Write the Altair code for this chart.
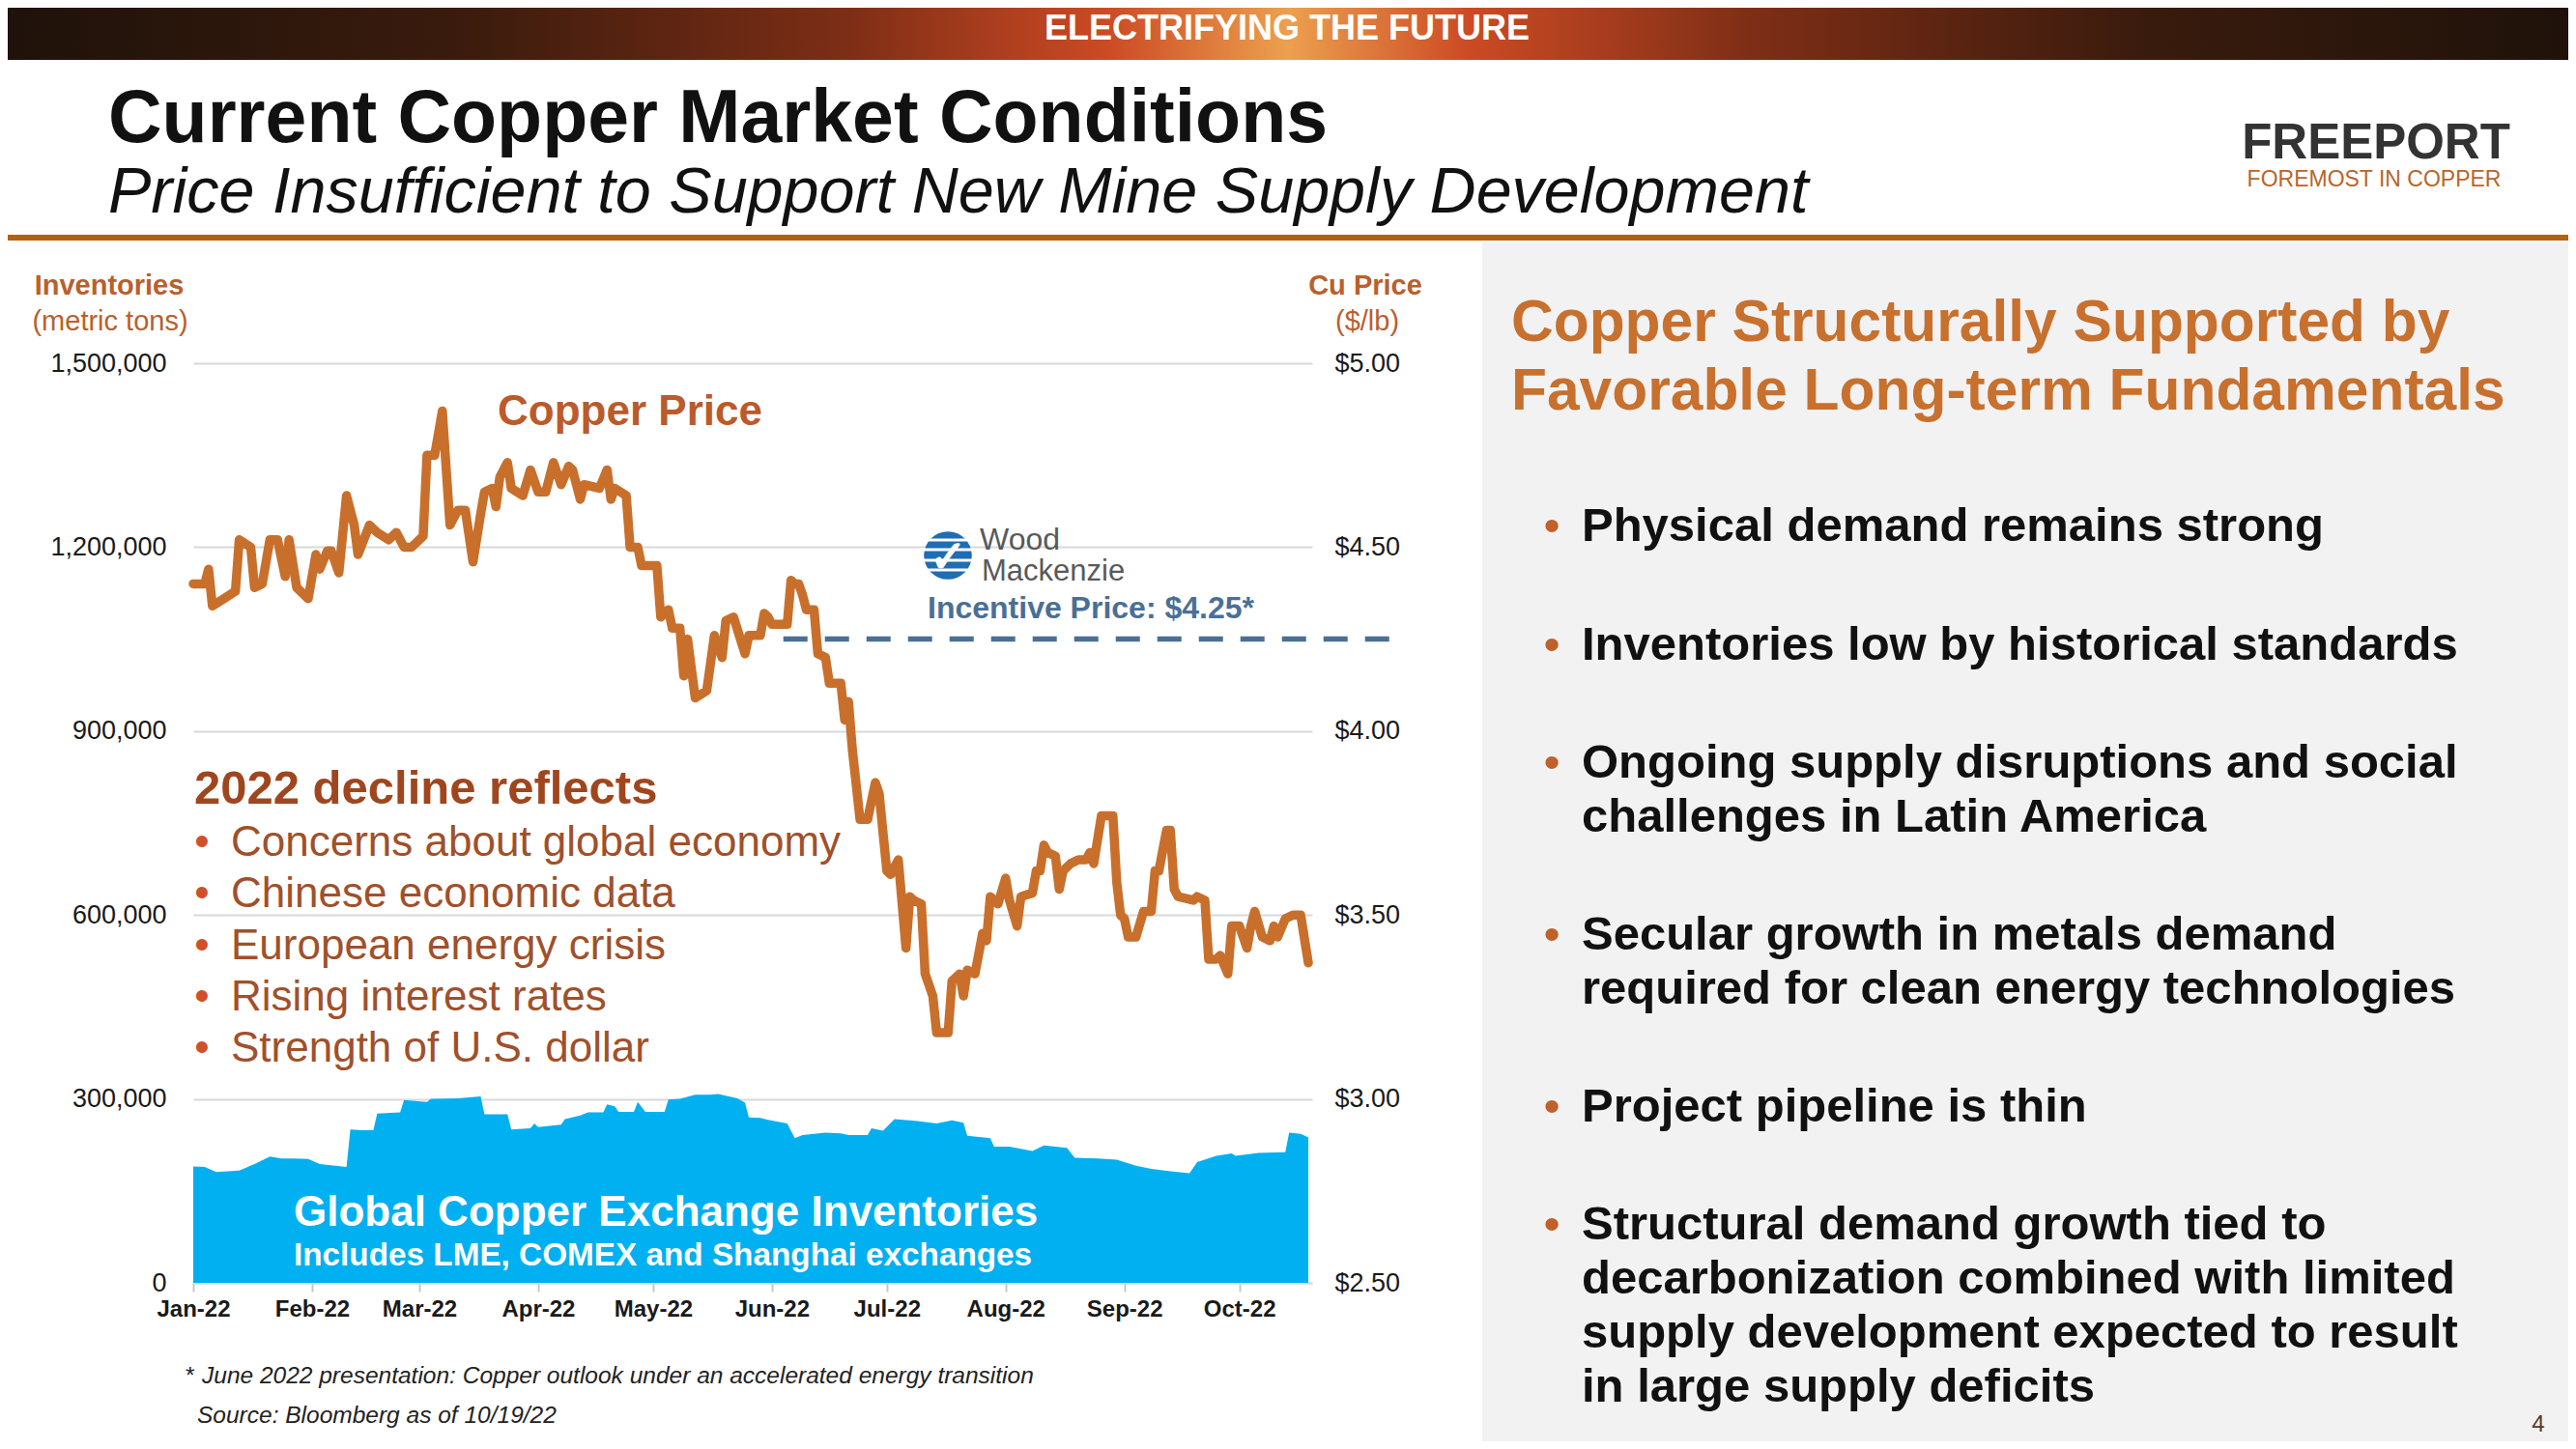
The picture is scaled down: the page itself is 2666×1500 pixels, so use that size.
import altair as alt
import pandas as pd

FONT = "Liberation Sans"

# ---------------- data ----------------
# days after 1 Jan 2022 and LME copper price in $/lb
price_days = [0, 3, 4, 5, 8, 11, 12, 15, 16, 18,
              20, 22, 24, 25, 27, 30, 32, 33, 35, 36,
              38, 40, 42, 43, 46, 48, 51, 53, 55, 57,
              60, 61, 63, 65, 67, 69, 71, 73, 75, 76,
              78, 79, 80, 82, 83, 86, 88, 90, 92, 94,
              96, 98, 99, 101, 102, 106, 108, 109, 110, 113,
              114, 116, 117, 121, 122, 124, 125, 127, 128, 129,
              131, 134, 136, 138, 139, 141, 144, 145, 148, 149,
              150, 151, 155, 156, 157, 158, 159, 160, 162, 163,
              165, 166, 169, 170, 171, 172, 174, 176, 178, 179,
              181, 182, 184, 186, 187, 188, 190, 191, 193, 194,
              197, 198, 199, 200, 201, 202, 204, 206, 207, 208,
              210, 212, 213, 215, 216, 219, 220, 221, 222, 223,
              225, 226, 227, 229, 231, 233, 234, 235, 237, 240,
              241, 242, 243, 244, 246, 248, 250, 251, 252, 254,
              255, 256, 257, 261, 262, 264, 265, 267, 268, 270,
              271, 273, 275, 276, 277, 279, 281, 282, 283, 285,
              287, 289, 291]
price_usd_lb = [4.40, 4.40, 4.44, 4.34, 4.36, 4.38, 4.52, 4.50, 4.39, 4.40,
                4.52, 4.52, 4.42, 4.52, 4.39, 4.36, 4.48, 4.44, 4.49, 4.49,
                4.43, 4.64, 4.56, 4.48, 4.56, 4.54, 4.52, 4.54, 4.50, 4.50,
                4.53, 4.75, 4.75, 4.87, 4.56, 4.60, 4.60, 4.46, 4.59, 4.65,
                4.66, 4.61, 4.69, 4.73, 4.66, 4.64, 4.71, 4.65, 4.65, 4.73,
                4.67, 4.72, 4.71, 4.63, 4.67, 4.66, 4.71, 4.63, 4.66, 4.64,
                4.50, 4.50, 4.45, 4.45, 4.31, 4.33, 4.28, 4.28, 4.15, 4.25,
                4.09, 4.11, 4.26, 4.20, 4.30, 4.31, 4.21, 4.26, 4.26, 4.32,
                4.31, 4.29, 4.29, 4.41, 4.40, 4.40, 4.37, 4.33, 4.33, 4.21,
                4.20, 4.13, 4.13, 4.03, 4.08, 3.95, 3.76, 3.76, 3.86, 3.83,
                3.62, 3.61, 3.65, 3.41, 3.55, 3.54, 3.53, 3.34, 3.28, 3.18,
                3.18, 3.32, 3.33, 3.34, 3.28, 3.35, 3.34, 3.45, 3.43, 3.55,
                3.53, 3.60, 3.54, 3.47, 3.55, 3.56, 3.62, 3.62, 3.69, 3.67,
                3.66, 3.57, 3.62, 3.64, 3.65, 3.65, 3.67, 3.64, 3.77, 3.77,
                3.59, 3.50, 3.49, 3.44, 3.44, 3.51, 3.51, 3.62, 3.62, 3.73,
                3.73, 3.57, 3.55, 3.54, 3.55, 3.54, 3.38, 3.38, 3.39, 3.34,
                3.47, 3.47, 3.41, 3.47, 3.51, 3.44, 3.43, 3.47, 3.44, 3.49,
                3.50, 3.50, 3.37]

# days after 1 Jan 2022 and global exchange inventories (metric tons)
inv_days = [0, 3, 6, 12, 16, 20, 23, 26, 30, 33,
            40, 41, 44, 47, 48, 54, 55, 61, 62, 69,
            75, 76, 82, 83, 88, 89, 90, 96, 97, 101,
            103, 107, 108, 110, 111, 115, 116, 118, 123, 124,
            127, 131, 135, 137, 142, 144, 145, 148, 150, 155,
            157, 159, 165, 169, 171, 176, 177, 180, 183, 189,
            194, 198, 201, 202, 208, 209, 213, 219, 222, 228,
            230, 236, 241, 246, 250, 255, 260, 262, 267, 271,
            272, 278, 285, 286, 289, 291]
inv_tons = [190000, 189000, 181000, 183000, 194000, 206000, 203000, 203000, 202000, 194000,
            189000, 250000, 249000, 249000, 276000, 278000, 298000, 295000, 300000, 301000,
            304000, 275000, 275000, 250000, 252000, 260000, 254000, 258000, 267000, 273000,
            278000, 278000, 291000, 288000, 279000, 279000, 295000, 279000, 279000, 299000,
            300000, 307000, 307000, 308000, 301000, 294000, 270000, 269000, 266000, 260000,
            236000, 241000, 245000, 244000, 241000, 241000, 252000, 248000, 267000, 264000,
            260000, 265000, 261000, 240000, 236000, 222000, 222000, 215000, 224000, 220000,
            204000, 203000, 201000, 191000, 186000, 182000, 179000, 197000, 207000, 211000,
            207000, 212000, 213000, 245000, 243000, 237000]

inventory_ticks = [0, 300000, 600000, 900000, 1200000, 1500000]
price_ticks = [2.5, 3.0, 3.5, 4.0, 4.5, 5.0]
incentive_price = [4.25]
incentive_start_day = [154]

decline_reasons = ["Concerns about global economy", "Chinese economic data",
                   "European energy crisis", "Rising interest rates",
                   "Strength of U.S. dollar"]
fundamentals = [
    ["Physical demand remains strong"],
    ["Inventories low by historical standards"],
    ["Ongoing supply disruptions and social", "challenges in Latin America"],
    ["Secular growth in metals demand", "required for clean energy technologies"],
    ["Project pipeline is thin"],
    ["Structural demand growth tied to", "decarbonization combined with limited",
     "supply development expected to result", "in large supply deficits"],
]

# ---------------- tables ----------------
base = pd.Timestamp("2022-01-01")
price_df = pd.DataFrame({"date": base + pd.to_timedelta(price_days, unit="D"),
                         "price": price_usd_lb})
inv_df = pd.DataFrame({"date": base + pd.to_timedelta(inv_days, unit="D"),
                       "tons": inv_tons})
inc_df = pd.DataFrame({"date": base + pd.to_timedelta(incentive_start_day, unit="D"),
                       "price": incentive_price})
ONE = pd.DataFrame({"k": [0]})

# plot area origin on the page (reference pixels)
OX, OY = 200, 376
W, H = 1158, 952

X = alt.X(
    "date:T", title=None,
    scale=alt.Scale(domain=[alt.DateTime(year=2022, month=1, date=1),
                            alt.DateTime(year=2022, month=10, date=20)]),
    axis=alt.Axis(values=[alt.DateTime(year=2022, month=m, date=1) for m in range(1, 11)],
                  format="%b-%y", labelFont=FONT, labelFontSize=24, labelFontWeight="bold",
                  labelColor="#1a1a1a", tickSize=9, tickColor="#c8c8c8", tickWidth=2,
                  domainColor="#d9d9d9", domainWidth=2, labelPadding=6, grid=False,
                  labelFlush=False, labelOverlap=False, labelBound=False),
)


def text(s, x, y, size, color="#111111", weight="normal", style="normal", align="left",
         font=FONT):
    return alt.Chart(ONE).mark_text(
        text=s, font=font, fontSize=size, fontWeight=weight, fontStyle=style,
        color=color, align=align, baseline="alphabetic"
    ).encode(x=alt.value(x - OX), y=alt.value(y - OY))


def box(x1, y1, x2, y2, color):
    return alt.Chart(ONE).mark_rect(color=color).encode(
        x=alt.value(x1 - OX), x2=alt.value(x2 - OX),
        y=alt.value(y1 - OY), y2=alt.value(y2 - OY))


banner_grad = alt.LinearGradient(
    gradient="linear", x1=0, x2=1, y1=0, y2=0,
    stops=[alt.GradientStop(offset=0.0, color="#1e120a"),
           alt.GradientStop(offset=0.18, color="#3a1b0d"),
           alt.GradientStop(offset=0.33, color="#7e2e16"),
           alt.GradientStop(offset=0.43, color="#cc4a24"),
           alt.GradientStop(offset=0.5, color="#eca04e"),
           alt.GradientStop(offset=0.57, color="#cc4a24"),
           alt.GradientStop(offset=0.68, color="#7e2e16"),
           alt.GradientStop(offset=0.83, color="#3a1b0d"),
           alt.GradientStop(offset=1.0, color="#1e120a")])

layers = []
# slide background pieces
layers.append(box(0, 0, 2666, 62, banner_grad))
layers.append(box(0, 243, 2666, 249, "#b5600f"))
layers.append(box(1534, 251, 2666, 1500, "#f2f2f2"))

# chart marks
area = alt.Chart(inv_df).mark_area(color="#00b0f0").encode(
    x=X,
    y=alt.Y("tons:Q", title=None, scale=alt.Scale(domain=[0, 1500000]),
            axis=alt.Axis(orient="left", values=inventory_ticks, format=",d",
                          labelFont=FONT, labelFontSize=27, labelColor="#1a1a1a",
                          labelPadding=28, tickSize=0, ticks=False, domain=False,
                          grid=True, gridColor="#d9d9d9", gridWidth=2)))
line = alt.Chart(price_df).mark_line(color="#c96f2c", strokeWidth=9.5,
                                     strokeJoin="round", strokeCap="round").encode(
    x=X,
    y=alt.Y("price:Q", title=None, scale=alt.Scale(domain=[2.5, 5.0]),
            axis=alt.Axis(orient="right", values=price_ticks, format="$.2f",
                          labelFont=FONT, labelFontSize=27, labelColor="#1a1a1a",
                          labelPadding=23, tickSize=0, ticks=False, domain=False,
                          grid=False)))
incentive = alt.Chart(inc_df).mark_rule(color="#4a6f96", strokeWidth=5.5,
                                        strokeDash=[25, 18]).encode(
    x=X, x2=alt.value(1452 - OX),
    y=alt.Y("price:Q", scale=alt.Scale(domain=[2.5, 5.0]), axis=None))
layers += [area, line, incentive]

# Wood Mackenzie badge
layers.append(alt.Chart(ONE).mark_point(shape="circle", filled=True, size=2460,
                                        color="#1f6db3", opacity=1).encode(
    x=alt.value(981 - OX), y=alt.value(575 - OY)))
for dy, half in [(-16, 22), (-6, 27), (5, 27), (15, 23)]:
    layers.append(alt.Chart(ONE).mark_rule(color="white", strokeWidth=3).encode(
        x=alt.value(981 - half - OX), x2=alt.value(981 + half - OX),
        y=alt.value(575 + dy - OY)))
layers.append(text("✓", 981, 592, 46, color="white", weight="bold", align="center"))
layers.append(text("Wood", 1014, 569, 32, color="#58595b"))
layers.append(text("Mackenzie", 1016, 601, 31, color="#58595b"))
layers.append(text("Incentive Price: $4.25*", 960, 640, 32, color="#4a6f96", weight="bold"))

# header texts
layers.append(text("ELECTRIFYING THE FUTURE", 1332, 41, 36, color="white", weight="bold", align="center"))
layers.append(text("Current Copper Market Conditions", 112, 147, 77, color="#111111", weight="bold"))
layers.append(text("Price Insufficient to Support New Mine Supply Development", 112, 220, 66.5,
                   color="#111111", style="italic"))
layers.append(text("FREEPORT", 2459, 164, 51, color="#333333", weight="bold", align="center"))
layers.append(text("FOREMOST IN COPPER", 2457, 193, 23, color="#b8652a", align="center"))

# axis titles
layers.append(text("Inventories", 113, 305, 29, color="#b8602e", weight="bold", align="center"))
layers.append(text("(metric tons)", 114, 342, 29, color="#b8602e", align="center"))
layers.append(text("Cu Price", 1413, 305, 29, color="#b8602e", weight="bold", align="center"))
layers.append(text("($/lb)", 1415, 342, 29, color="#b8602e", align="center"))

# in-chart annotations
layers.append(text("Copper Price", 652, 440, 44, color="#bb5a2a", weight="bold", align="center"))
layers.append(text("2022 decline reflects", 201, 832, 49, color="#a0461e", weight="bold"))
for i, reason in enumerate(decline_reasons):
    yb = 886 + 53.3 * i
    layers.append(text("•", 209, yb, 44, color="#d0502a", align="center"))
    layers.append(text(reason, 239, yb, 44, color="#a0502a"))
layers.append(text("Global Copper Exchange Inventories", 304, 1269, 44, color="white", weight="bold"))
layers.append(text("Includes LME, COMEX and Shanghai exchanges", 304, 1310, 33.3, color="white", weight="bold"))

# footnotes
layers.append(text("*", 191, 1432, 24.5, color="#222222", style="italic"))
layers.append(text("June 2022 presentation: Copper outlook under an accelerated energy transition",
                   209, 1432, 24.5, color="#222222", style="italic"))
layers.append(text("Source: Bloomberg as of 10/19/22", 204, 1473, 24.5, color="#222222", style="italic"))

# right panel
layers.append(text("Copper Structurally Supported by", 1564, 353, 60.5, color="#c8702e", weight="bold"))
layers.append(text("Favorable Long-term Fundamentals", 1564, 424, 60.5, color="#c8702e", weight="bold"))
bullet_tops = [560, 683, 805, 983, 1161, 1283]
for yb, item in zip(bullet_tops, fundamentals):
    layers.append(text("•", 1606, yb, 49, color="#c0602a", align="center"))
    for j, ln in enumerate(item):
        layers.append(text(ln, 1637, yb + 56 * j, 49, color="#111111", weight="bold"))
layers.append(text("4", 2627, 1482, 24, color="#5a3a2a", align="center"))

chart = alt.layer(*layers).resolve_scale(y="independent").properties(
    width=W, height=H,
    padding={"left": 192, "top": 368, "right": 1300, "bottom": 164},
    autosize=alt.AutoSizeParams(type="none"),
    background="white",
).configure_view(stroke=None)

chart.save("out.html", embed_options={"renderer": "svg", "actions": False})
